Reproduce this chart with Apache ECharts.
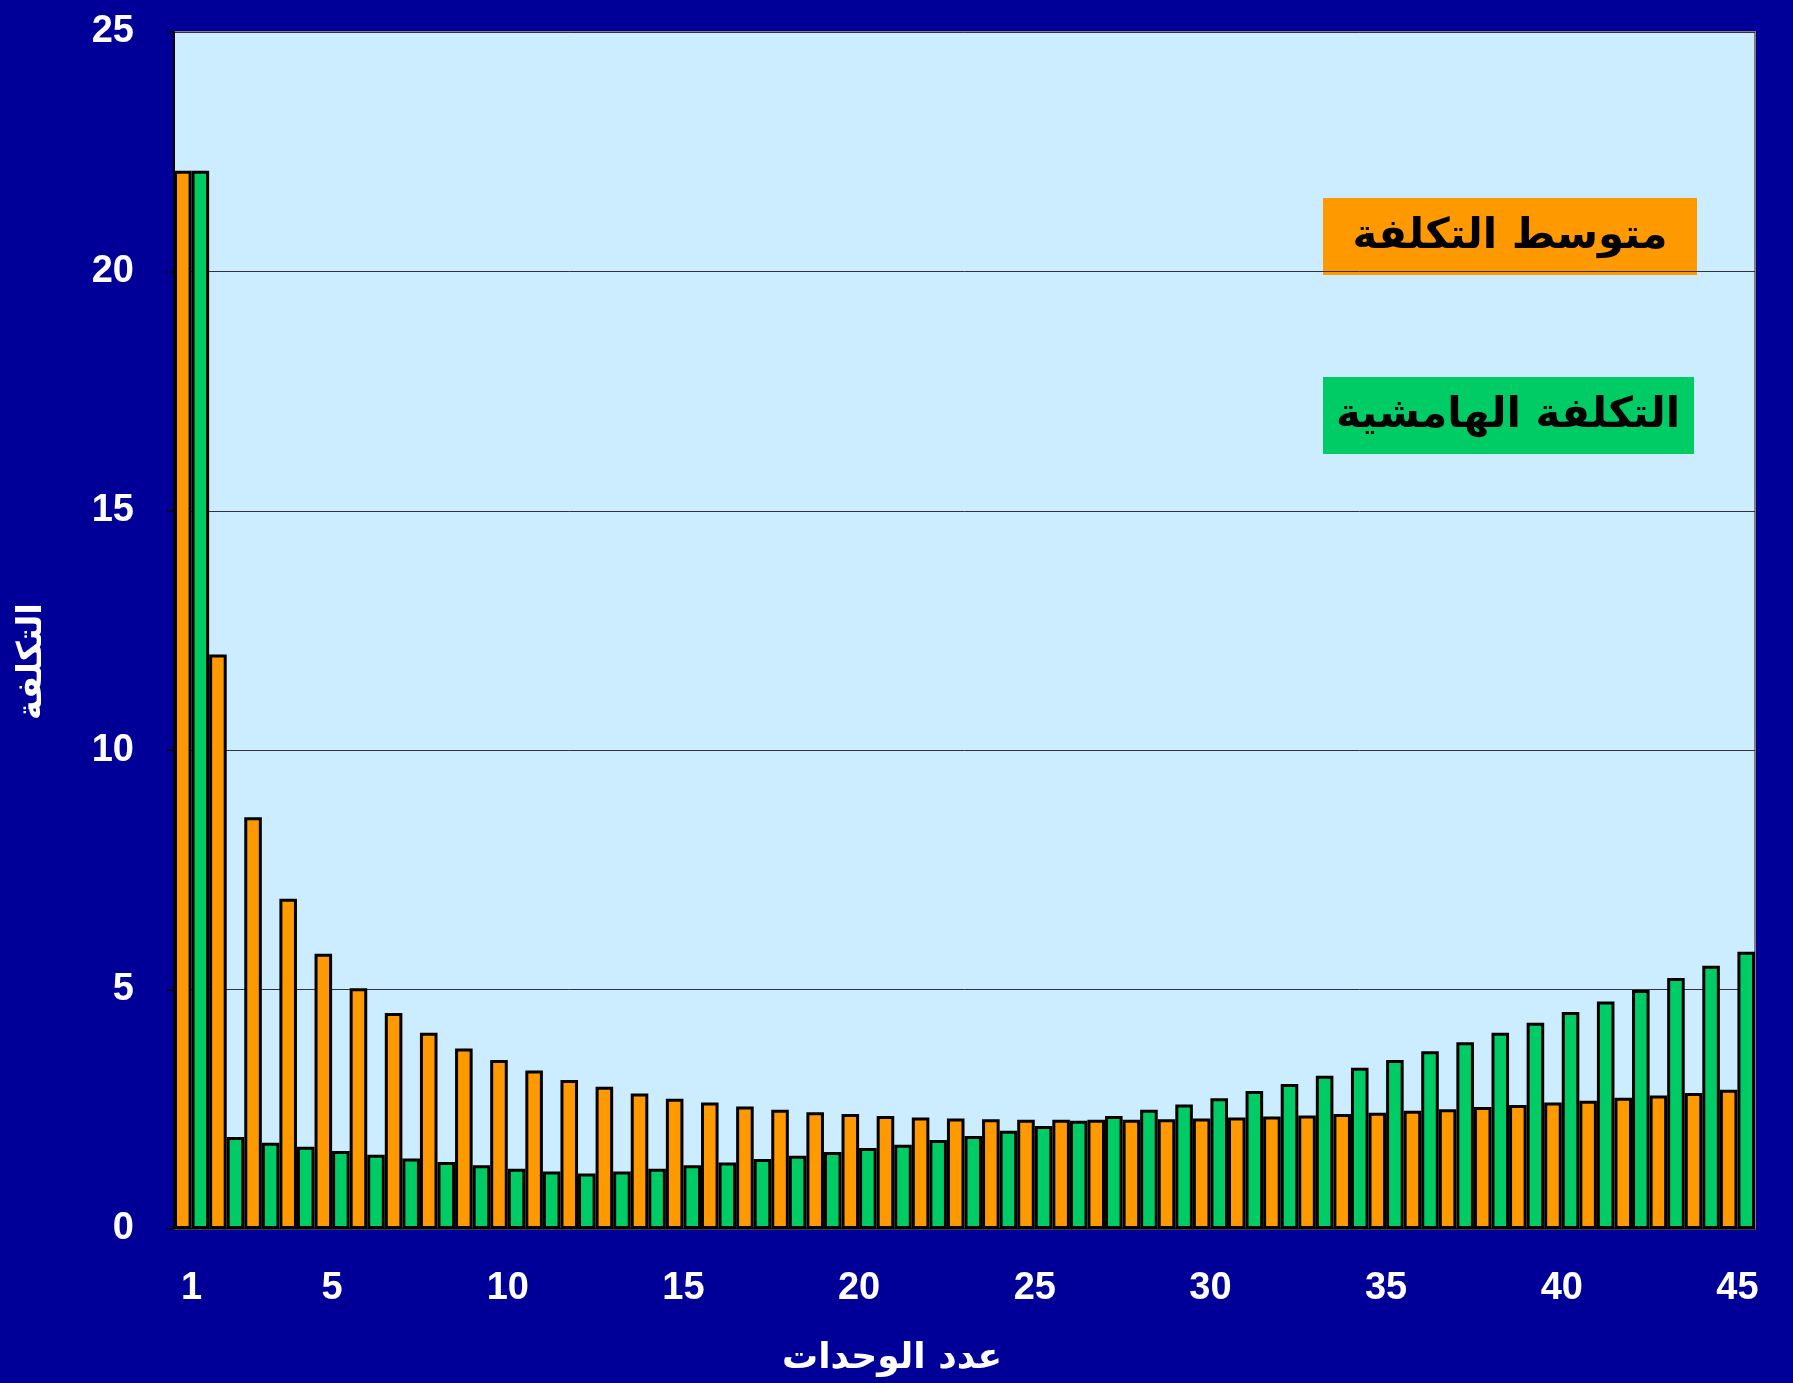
<!DOCTYPE html>
<html lang="ar">
<head>
<meta charset="utf-8">
<title>متوسط التكلفة والتكلفة الهامشية</title>
<script src="https://cdn.jsdelivr.net/npm/echarts@6/dist/echarts.min.js"></script>
<style>
  html, body {
    margin: 0;
    padding: 0;
    background: #000099;
  }
  #chart {
    width: 1793px;
    height: 1383px;
  }
</style>
</head>
<body>
<div id="chart"></div>
<script>
// عدد الوحدات 1..45
const units = ['1','2','3','4','5','6','7','8','9','10','11','12','13','14','15','16','17','18','19','20','21','22','23','24','25','26','27','28','29','30','31','32','33','34','35','36','37','38','39','40','41','42','43','44','45'];

// متوسط التكلفة
const avgCost = [22.1, 12.0, 8.6, 6.9, 5.75, 5.03, 4.51, 4.10, 3.77, 3.53, 3.31, 3.11, 2.97, 2.83, 2.72, 2.64, 2.56, 2.49, 2.44, 2.40, 2.36, 2.33, 2.31, 2.29, 2.28, 2.28, 2.28, 2.28, 2.29, 2.31, 2.33, 2.35, 2.37, 2.40, 2.43, 2.47, 2.50, 2.55, 2.59, 2.64, 2.68, 2.74, 2.79, 2.84, 2.91];

// التكلفة الهامشية
const marginalCost = [22.1, 1.92, 1.80, 1.72, 1.63, 1.55, 1.47, 1.40, 1.33, 1.26, 1.20, 1.16, 1.20, 1.26, 1.33, 1.39, 1.46, 1.53, 1.61, 1.69, 1.76, 1.86, 1.94, 2.05, 2.15, 2.26, 2.36, 2.49, 2.60, 2.73, 2.88, 3.03, 3.20, 3.37, 3.53, 3.71, 3.90, 4.10, 4.31, 4.53, 4.75, 4.99, 5.24, 5.50, 5.79];

const avgName = 'متوسط التكلفة';
const marginalName = 'التكلفة الهامشية';
const xTitle = 'عدد الوحدات';
const yTitle = 'التكلفة';

const arabicFont = '"DejaVu Sans", sans-serif';
const numFont = '"Liberation Sans", Arial, sans-serif';

const chart = echarts.init(document.getElementById('chart'));

const option = {
  backgroundColor: '#000099',
  animation: false,
  grid: {
    left: 174,
    top: 32,
    right: 38,
    bottom: 154,
    show: true,
    backgroundColor: '#CCECFF',
    borderColor: '#808080',
    borderWidth: 2
  },
  xAxis: {
    type: 'category',
    data: units,
    boundaryGap: true,
    name: xTitle,
    nameLocation: 'middle',
    nameGap: 112,
    nameTextStyle: {
      color: '#fff',
      fontFamily: arabicFont,
      fontWeight: 'bold',
      fontSize: 36,
      padding: [0, 145, 0, 0]
    },
    axisLine: { lineStyle: { color: '#404040', width: 2 } },
    axisTick: { interval: 0, length: 6, lineStyle: { color: '#000', width: 1.5 } },
    axisLabel: {
      interval: (i) => i === 0 || (i + 1) % 5 === 0,
      margin: 41,
      color: '#fff',
      fontFamily: numFont,
      fontWeight: 'bold',
      fontSize: 38
    }
  },
  yAxis: {
    type: 'value',
    min: 0,
    max: 25,
    interval: 5,
    name: yTitle,
    nameLocation: 'middle',
    nameRotate: 90,
    nameGap: 125,
    nameTextStyle: {
      color: '#fff',
      fontFamily: arabicFont,
      fontWeight: 'bold',
      fontSize: 34,
      padding: [0, 62, 0, 0]
    },
    axisLine: { show: true, lineStyle: { color: '#000', width: 2 } },
    axisTick: { show: true, length: 7, lineStyle: { color: '#000', width: 1.5 } },
    axisLabel: {
      margin: 40,
      color: '#fff',
      fontFamily: numFont,
      fontWeight: 'bold',
      fontSize: 38
    },
    splitLine: { lineStyle: { color: '#333', width: 1 } }
  },
  series: [
    {
      name: avgName,
      type: 'bar',
      data: avgCost,
      barGap: '0%',
      barCategoryGap: '0%',
      itemStyle: { color: '#FF9900', borderColor: '#000', borderWidth: 3 }
    },
    {
      name: marginalName,
      type: 'bar',
      data: marginalCost,
      barGap: '0%',
      barCategoryGap: '0%',
      itemStyle: { color: '#00CC66', borderColor: '#000', borderWidth: 3 }
    }
  ],
  graphic: [
    {
      type: 'group',
      left: 1323,
      top: 198,
      children: [
        { type: 'rect', shape: { x: 0, y: 0, width: 374, height: 77 }, style: { fill: '#FF9900' } },
        {
          type: 'text',
          x: 187,
          y: 39,
          style: {
            text: avgName,
            fill: '#000',
            font: 'bold 42px ' + arabicFont,
            align: 'center',
            verticalAlign: 'middle'
          }
        }
      ]
    },
    {
      type: 'group',
      left: 1323,
      top: 377,
      children: [
        { type: 'rect', shape: { x: 0, y: 0, width: 371, height: 77 }, style: { fill: '#00CC66' } },
        {
          type: 'text',
          x: 185,
          y: 39,
          style: {
            text: marginalName,
            fill: '#000',
            font: 'bold 42px ' + arabicFont,
            align: 'center',
            verticalAlign: 'middle'
          }
        }
      ]
    }
  ]
};

chart.setOption(option);
</script>
</body>
</html>
